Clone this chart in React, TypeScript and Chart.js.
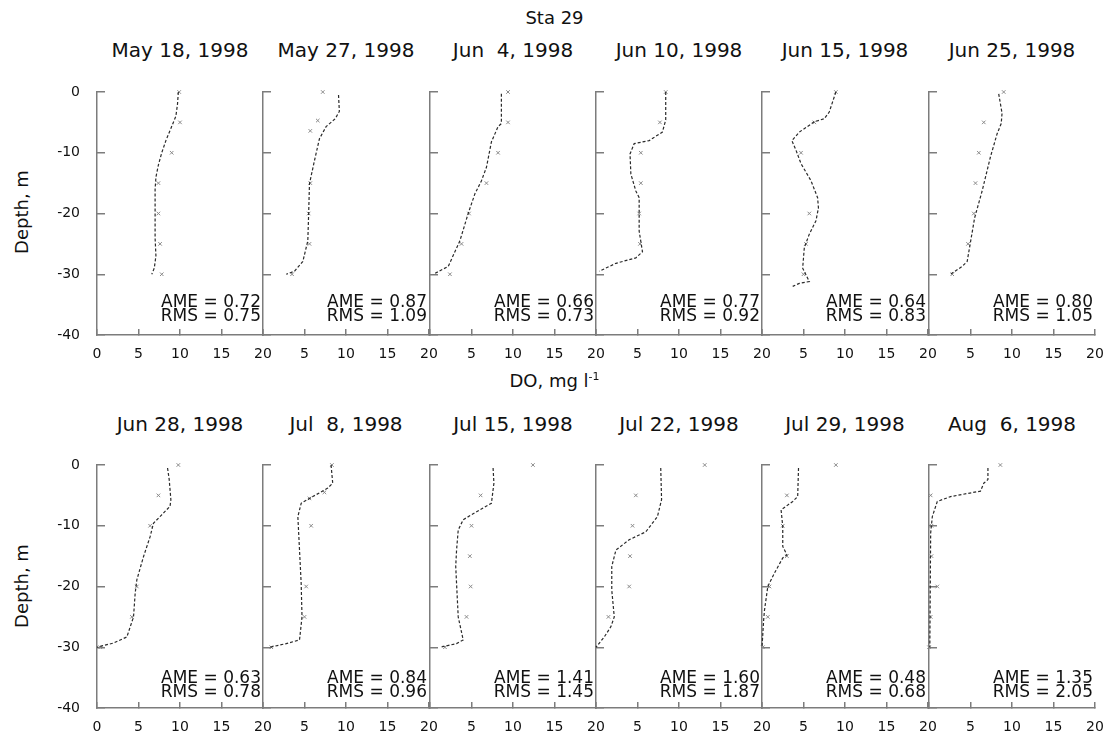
import React, { useEffect, useRef } from 'react';
import { Chart, registerables } from 'chart.js';

Chart.register(...registerables);

// ---------- data ----------
const panelTitles = [
  'May 18, 1998', 'May 27, 1998', 'Jun  4, 1998', 'Jun 10, 1998', 'Jun 15, 1998', 'Jun 25, 1998',
  'Jun 28, 1998', 'Jul  8, 1998', 'Jul 15, 1998', 'Jul 22, 1998', 'Jul 29, 1998', 'Aug  6, 1998',
];
const ameValues = ['0.72', '0.87', '0.66', '0.77', '0.64', '0.80', '0.63', '0.84', '1.41', '1.60', '0.48', '1.35'];
const rmsValues = ['0.75', '1.09', '0.73', '0.92', '0.83', '1.05', '0.78', '0.96', '1.45', '1.87', '0.68', '2.05'];

// model profiles (depth m, DO mg/l)
const may18Depth = [0, -2, -4, -6, -8, -10, -12, -14, -16, -20, -24, -27, -29, -30];
const may18DO = [9.8, 9.7, 9.5, 8.9, 8.3, 7.8, 7.4, 7.1, 7.0, 7.0, 7.0, 7.1, 6.9, 6.6];
const may18ObsDepth = [0, -5, -10, -15, -20, -25, -30];
const may18ObsDO = [9.9, 10.0, 9.0, 7.4, 7.4, 7.6, 7.8];

const may27Depth = [-0.5, -3.2, -4.4, -5.7, -7.7, -11.3, -15.1, -20, -24.5, -27.9, -29.5, -30];
const may27DO = [9.1, 9.2, 8.7, 7.6, 6.8, 6.2, 5.6, 5.5, 5.4, 4.8, 3.8, 2.8];
const may27ObsDepth = [0, -4.7, -6.4, -15, -20, -25, -30];
const may27ObsDO = [7.2, 6.6, 5.7, 5.7, 5.5, 5.6, 3.5];

const jun04Depth = [-0.3, -5.2, -5.7, -8.2, -12.4, -14.6, -16.8, -20, -24.5, -28.7, -30];
const jun04DO = [8.6, 8.6, 8.2, 7.4, 6.8, 6.2, 5.4, 4.6, 3.6, 2.2, 0.4];
const jun04ObsDepth = [0, -5, -10, -15, -20, -25, -30];
const jun04ObsDO = [9.4, 9.4, 8.2, 6.8, 4.7, 3.8, 2.4];

const jun10Depth = [0, -4.6, -6.6, -8, -8.5, -10.2, -13.5, -16.3, -17.4, -22.9, -26.3, -27.3, -28.2, -29.5];
const jun10DO = [8.4, 8.4, 8.0, 6.4, 4.6, 4.1, 4.2, 4.8, 5.2, 5.2, 5.6, 4.8, 2.4, 0.4];
const jun10ObsDepth = [0, -5, -10, -15, -20, -25];
const jun10ObsDO = [8.4, 7.7, 5.4, 5.4, 5.2, 5.3];

const jun15Depth = [0, -3.3, -4.4, -4.9, -6.6, -8, -9.6, -11.8, -14.6, -17.4, -19.1, -21.2, -23.4, -25.6, -29, -31.2, -31.5, -32];
const jun15DO = [8.9, 8.1, 7.5, 6.3, 4.5, 3.6, 4.1, 4.7, 5.9, 6.7, 6.8, 6.5, 5.7, 5.1, 4.9, 5.7, 4.5, 3.7];
const jun15ObsDepth = [0, -5, -10, -20, -25, -30];
const jun15ObsDO = [8.9, 6.3, 4.7, 5.7, 5.3, 5.0];

const jun25Depth = [-0.3, -3.5, -5.2, -6.9, -10.7, -16.3, -20.7, -27.9, -28.7, -30];
const jun25DO = [8.4, 8.8, 8.7, 8.2, 7.4, 6.4, 5.5, 4.6, 4.0, 2.6];
const jun25ObsDepth = [0, -5, -10, -15, -20, -25, -30];
const jun25ObsDO = [9.0, 6.6, 6.0, 5.6, 5.4, 4.7, 2.8];

const jun28Depth = [-0.5, -2.4, -5.7, -6.8, -8.2, -9.6, -11.8, -15.1, -18.9, -21.1, -25, -28.3, -29.3, -30];
const jun28DO = [8.5, 8.7, 8.9, 8.8, 7.8, 6.8, 6.4, 5.6, 4.8, 4.6, 4.4, 3.6, 2.0, 0];
const jun28ObsDepth = [0, -5, -10, -20, -25, -30];
const jun28ObsDO = [9.8, 7.4, 6.4, 4.8, 4.2, 0.4];

const jul08Depth = [0, -3, -3.8, -5.2, -6.3, -8.5, -14, -19.5, -25, -28.8, -29.4, -30];
const jul08DO = [8.2, 8.4, 7.8, 6.0, 4.6, 4.2, 4.4, 4.6, 4.7, 4.4, 2.8, 0.8];
const jul08ObsDepth = [0, -4.5, -5.5, -10, -20, -25, -30];
const jul08ObsDO = [8.3, 7.4, 5.6, 5.8, 5.2, 5.0, 1.0];

const jul15Depth = [-0.5, -3, -6.3, -7.4, -9, -10.7, -14, -16.7, -19.5, -25, -28.8, -29.4, -30];
const jul15DO = [7.6, 7.7, 7.4, 6.0, 4.0, 3.4, 3.2, 3.1, 3.2, 3.4, 4.0, 3.2, 1.2];
const jul15ObsDepth = [0, -5, -10, -15, -20, -25, -30];
const jul15ObsDO = [12.4, 6.1, 5.0, 4.8, 4.9, 4.4, 1.8];

const jul22Depth = [-0.5, -5.7, -8.5, -11, -12.3, -14, -16.7, -20.6, -25, -26.6, -28.3, -30];
const jul22DO = [7.8, 7.9, 7.4, 6.0, 4.0, 2.4, 1.9, 1.9, 2.2, 1.8, 1.0, 0];
const jul22ObsDepth = [0, -5, -10, -15, -20, -25];
const jul22ObsDO = [13.1, 4.8, 4.4, 4.1, 4.0, 1.5];

const jul29Depth = [-0.5, -5.2, -6, -7.4, -10.1, -13.4, -14.8, -15.3, -17.8, -20, -23.9, -25.5, -30];
const jul29DO = [4.4, 4.3, 3.7, 2.3, 2.5, 2.5, 3.0, 2.5, 1.5, 0.7, 0.3, 0.2, 0];
const jul29ObsDepth = [0, -5, -10, -15, -20, -25, -30];
const jul29ObsDO = [8.9, 3.0, 2.5, 3.0, 0.9, 0.7, 0.1];

const aug06Depth = [-0.5, -2.4, -3, -4.3, -5.2, -6, -8.5, -11.2, -30];
const aug06DO = [7.1, 7.1, 6.6, 6.2, 2.6, 1.0, 0.4, 0.2, 0.1];
const aug06ObsDepth = [0, -5, -10, -15, -20, -25, -30];
const aug06ObsDO = [8.6, 0.2, 0.3, 0.3, 1.0, 0.2, 0];

const profiles = [
  [may18Depth, may18DO, may18ObsDepth, may18ObsDO],
  [may27Depth, may27DO, may27ObsDepth, may27ObsDO],
  [jun04Depth, jun04DO, jun04ObsDepth, jun04ObsDO],
  [jun10Depth, jun10DO, jun10ObsDepth, jun10ObsDO],
  [jun15Depth, jun15DO, jun15ObsDepth, jun15ObsDO],
  [jun25Depth, jun25DO, jun25ObsDepth, jun25ObsDO],
  [jun28Depth, jun28DO, jun28ObsDepth, jun28ObsDO],
  [jul08Depth, jul08DO, jul08ObsDepth, jul08ObsDO],
  [jul15Depth, jul15DO, jul15ObsDepth, jul15ObsDO],
  [jul22Depth, jul22DO, jul22ObsDepth, jul22ObsDO],
  [jul29Depth, jul29DO, jul29ObsDepth, jul29ObsDO],
  [aug06Depth, aug06DO, aug06ObsDepth, aug06ObsDO],
];

// ---------- layout ----------
const COL_LEFT = [97, 263, 430, 596, 762, 929];
const ROW_TOP = [92, 465];
const PLOT_W = 166;
const PLOT_H = 243;
const PAD_L = 60;
const PAD_T = 15;
const PAD_R = 15;
const PAD_B = 35;
const AXIS = '#7c7c7c';
const FONT = 'DejaVu Sans';

function toPoints(xs: number[], ys: number[]) {
  return xs.map((x, i) => ({ x, y: ys[i] }));
}

function Panel({ idx }: { idx: number }) {
  const ref = useRef<HTMLCanvasElement>(null);
  const col = idx % 6;
  const row = Math.floor(idx / 6);
  const w = PAD_L + PLOT_W + PAD_R;
  const h = PAD_T + PLOT_H + PAD_B;

  useEffect(() => {
    const [depth, dov, obsDepth, obsDO] = profiles[idx];
    const chart = new Chart(ref.current as HTMLCanvasElement, {
      type: 'scatter',
      data: {
        datasets: [
          {
            data: toPoints(dov, depth),
            showLine: true,
            borderColor: '#2a2a2a',
            borderWidth: 1.2,
            borderDash: [3, 2],
            pointRadius: 0,
            fill: false,
            clip: false as any,
          },
          {
            data: toPoints(obsDO, obsDepth),
            showLine: false,
            pointStyle: 'crossRot',
            pointRadius: 2.5,
            borderColor: '#8a8a8a',
            backgroundColor: '#8a8a8a',
            pointBorderWidth: 1,
            clip: false as any,
          },
        ],
      },
      options: {
        animation: false,
        responsive: false,
        devicePixelRatio: 1,
        events: [],
        layout: { padding: { left: 0, top: PAD_T, right: PAD_R, bottom: 0 } },
        plugins: {
          legend: { display: false },
          title: { display: false },
          tooltip: { enabled: false },
        },
        scales: {
          x: {
            type: 'linear',
            position: 'bottom',
            min: 0,
            max: 20,
            ticks: {
              stepSize: 5,
              padding: 17,
              color: '#111',
              maxRotation: 0,
              autoSkip: false,
              font: { family: FONT, size: 14 },
              callback: (v: any) => (col > 0 && Number(v) === 0 ? '' : String(v)),
            },
            grid: { drawOnChartArea: false, drawTicks: true, tickLength: -6, color: AXIS, lineWidth: 1.5 },
            border: { display: true, color: AXIS, width: 1.5 },
            afterFit: (s: any) => {
              s.height = PAD_B;
              s.paddingLeft = 0;
              s.paddingRight = 0;
            },
          },
          y: {
            type: 'linear',
            position: 'left',
            min: -40,
            max: 0,
            ticks: {
              display: col === 0,
              stepSize: 10,
              padding: 25,
              color: '#111',
              font: { family: FONT, size: 14 },
            },
            grid: { drawOnChartArea: false, drawTicks: true, tickLength: -8, color: AXIS, lineWidth: 1.5 },
            border: { display: true, color: AXIS, width: 1.5 },
            afterFit: (s: any) => {
              s.width = PAD_L;
              s.paddingTop = 0;
              s.paddingBottom = 0;
            },
          },
        },
      } as any,
    });
    return () => chart.destroy();
  }, [idx, col]);

  return (
    <canvas
      ref={ref}
      width={w}
      height={h}
      style={{
        position: 'absolute',
        left: COL_LEFT[col] - PAD_L,
        top: ROW_TOP[row] - PAD_T,
        width: w,
        height: h,
      }}
    />
  );
}

export default function App() {
  const textBase: React.CSSProperties = {
    position: 'absolute',
    fontFamily: FONT,
    color: '#111',
    whiteSpace: 'pre',
  };
  return (
    <div
      style={{
        position: 'absolute',
        left: 0,
        top: 0,
        width: 1109,
        height: 738,
        background: '#fff',
        overflow: 'hidden',
      }}
    >
      {panelTitles.map((_, i) => (
        <Panel key={'p' + i} idx={i} />
      ))}

      <div style={{ ...textBase, left: 0, width: 1109, top: 8, lineHeight: '20px', fontSize: 18, textAlign: 'center' }}>
        Sta 29
      </div>
      <div style={{ ...textBase, left: 0, width: 1109, top: 371, lineHeight: '20px', fontSize: 18, textAlign: 'center' }}>
        DO, mg l<sup style={{ fontSize: 11, verticalAlign: 'top', position: 'relative', top: -4 }}>-1</sup>
      </div>

      {[0, 1].map((r) => (
        <div
          key={'yl' + r}
          style={{
            ...textBase,
            left: 22 - 60,
            width: 120,
            top: (r === 0 ? 212 : 586) - 10,
            lineHeight: '20px',
            fontSize: 18,
            textAlign: 'center',
            transform: 'rotate(-90deg)',
          }}
        >
          Depth, m
        </div>
      ))}

      {panelTitles.map((t, i) => {
        const col = i % 6;
        const row = Math.floor(i / 6);
        return (
          <div
            key={'t' + i}
            style={{
              ...textBase,
              left: COL_LEFT[col] - 10,
              width: PLOT_W + 20,
              top: (row === 0 ? 50 : 424) - 10,
              lineHeight: '20px',
              fontSize: 20,
              textAlign: 'center',
            }}
          >
            {t}
          </div>
        );
      })}

      {ameValues.map((a, i) => {
        const col = i % 6;
        const row = Math.floor(i / 6);
        return (
          <div
            key={'s' + i}
            style={{
              ...textBase,
              left: COL_LEFT[col],
              width: PLOT_W - 2,
              top: (row === 0 ? 294 : 670),
              lineHeight: '14px',
              fontSize: 17,
              textAlign: 'right',
            }}
          >
            {'AME = ' + a}
            {'\n'}
            {'RMS = ' + rmsValues[i]}
          </div>
        );
      })}
    </div>
  );
}
